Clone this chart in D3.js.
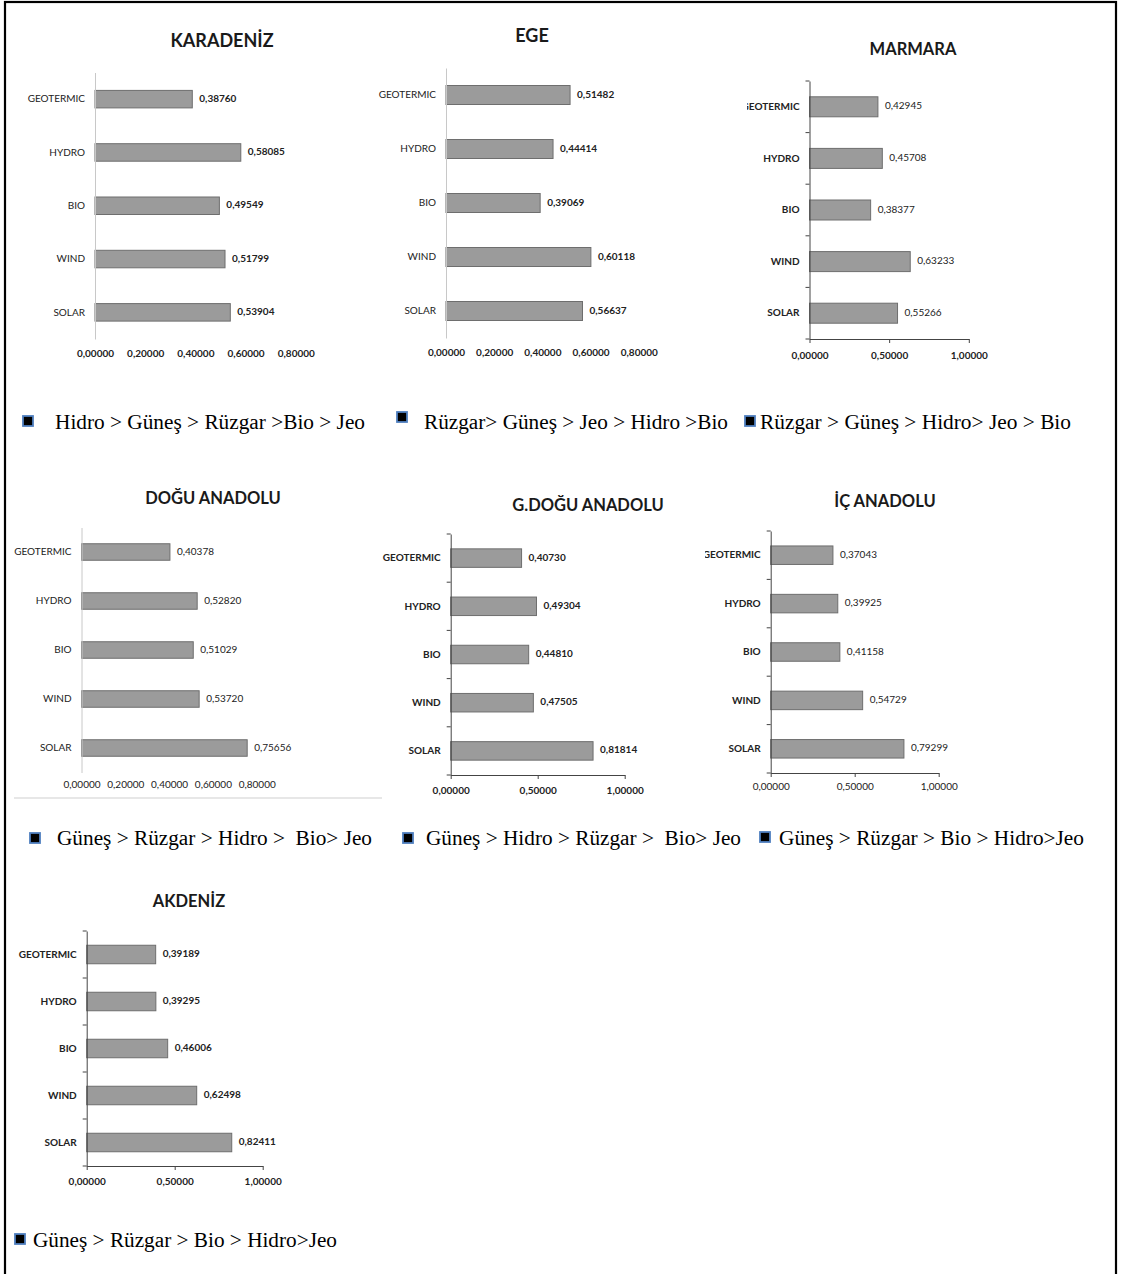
<!DOCTYPE html>
<html><head><meta charset="utf-8">
<script src="https://cdn.jsdelivr.net/npm/d3@7"></script>
<style>
html,body{margin:0;padding:0;background:#fff;}
svg{display:block;}
</style></head>
<body>
<svg id="c" width="1123" height="1274"></svg>
<script>
// ---------- DATA ----------
const categories = ["GEOTERMIC", "HYDRO", "BIO", "WIND", "SOLAR"];
const regionNames = ["KARADENİZ", "EGE", "MARMARA", "DOĞU ANADOLU", "G.DOĞU ANADOLU", "İÇ ANADOLU", "AKDENİZ"];
const karadeniz = [0.38760, 0.58085, 0.49549, 0.51799, 0.53904];
const ege       = [0.51482, 0.44414, 0.39069, 0.60118, 0.56637];
const marmara   = [0.42945, 0.45708, 0.38377, 0.63233, 0.55266];
const doguAnadolu  = [0.40378, 0.52820, 0.51029, 0.53720, 0.75656];
const gdoguAnadolu = [0.40730, 0.49304, 0.44810, 0.47505, 0.81814];
const icAnadolu    = [0.37043, 0.39925, 0.41158, 0.54729, 0.79299];
const akdeniz      = [0.39189, 0.39295, 0.46006, 0.62498, 0.82411];
const ticksA = [0, 0.2, 0.4, 0.6, 0.8];
const ticksB = [0, 0.5, 1.0];
const rankings = [
  "Hidro > Güneş > Rüzgar >Bio > Jeo",
  "Rüzgar> Güneş > Jeo > Hidro >Bio",
  "Rüzgar > Güneş > Hidro> Jeo > Bio",
  "Güneş > Rüzgar > Hidro >  Bio> Jeo",
  "Güneş > Hidro > Rüzgar >  Bio> Jeo",
  "Güneş > Rüzgar > Bio > Hidro>Jeo",
  "Güneş > Rüzgar > Bio > Hidro>Jeo"
];

// ---------- LAYOUT ----------
const panels = [
  {name:regionNames[0], vals:karadeniz, ticks:ticksA, ax:95,  top:72.5, bot:339, ppu:251, barH:17.5, tx:222, ty:42, tfs:18, tickY:354, axisStyle:"light", valBold:true, tickBold:true, catBold:false},
  {name:regionNames[1], vals:ege, ticks:ticksA, ax:446, top:68, bot:338, ppu:241, barH:19, tx:532, ty:37, tfs:18, tickY:353, axisStyle:"light", valBold:true, tickBold:true, catBold:false},
  {name:regionNames[2], vals:marmara, ticks:ticksB, ax:809.5, top:81, bot:339, ppu:159.3, barH:20, tx:913, ty:51, tfs:16.5, tickY:356, axisStyle:"dark", valBold:false, tickBold:true, catBold:true, clipX:747},
  {name:regionNames[3], vals:doguAnadolu, ticks:ticksA, ax:81.5, top:527.5, bot:772.5, ppu:219, barH:16.5, tx:213, ty:500, tfs:16.5, tickY:785, axisStyle:"light", valBold:false, tickBold:false, catBold:false, bottomLine:true},
  {name:regionNames[4], vals:gdoguAnadolu, ticks:ticksB, ax:450.7, top:534, bot:775, ppu:174, barH:18.5, tx:588, ty:507, tfs:16.5, tickY:791, axisStyle:"dark", valBold:true, tickBold:true, catBold:true},
  {name:regionNames[5], vals:icAnadolu, ticks:ticksB, ax:770.7, top:531, bot:773, ppu:168, barH:18.5, tx:885, ty:503, tfs:16.5, tickY:787, axisStyle:"dark", valBold:false, tickBold:false, catBold:true, clipX:705},
  {name:regionNames[6], vals:akdeniz, ticks:ticksB, ax:86.7, top:931, bot:1166, ppu:176, barH:18.5, tx:189, ty:903, tfs:16.5, tickY:1182, axisStyle:"dark", valBold:true, tickBold:true, catBold:true}
];
const legends = [
  {sx:28, sy:421, x0:55, x1:365, y:429},
  {sx:402, sy:417, x0:424, x1:728, y:429},
  {sx:750, sy:421, x0:760, x1:1071, y:429},
  {sx:35, sy:838, x0:57, x1:372, y:845},
  {sx:408, sy:838, x0:426, x1:741, y:845},
  {sx:765, sy:837, x0:779, x1:1084, y:845},
  {sx:20, sy:1239, x0:33, x1:337, y:1247}
];

const svg = d3.select("#c");
const FONT = "Lato, 'Open Sans', sans-serif";
const fmt = v => d3.format(".5f")(v).replace(".", ",");

// page border
svg.append("rect").attr("x",5).attr("y",2).attr("width",1111).attr("height",1300)
  .attr("fill","none").attr("stroke","#000").attr("stroke-width",2.2);

const defs = svg.append("defs");

panels.forEach((p, i) => {
  const g = svg.append("g");
  if (p.clipX !== undefined) {
    defs.append("clipPath").attr("id","clip"+i).append("rect")
      .attr("x", p.clipX).attr("y", p.top-30).attr("width", 500).attr("height", p.bot - p.top + 80);
    g.attr("clip-path", "url(#clip"+i+")");
  }
  const xMax = p.ticks[p.ticks.length-1];
  const x = d3.scaleLinear().domain([0, xMax]).range([p.ax, p.ax + p.ppu * xMax]);
  const y = d3.scaleBand().domain(categories).range([p.top, p.bot]);

  // title
  svg.append("text").attr("x", p.tx).attr("y", p.ty).attr("text-anchor","middle")
    .attr("dominant-baseline","middle").attr("font-family", FONT).attr("font-weight","bold")
    .attr("font-size", p.tfs).attr("fill","#1a1a1a").text(p.name);

  // bars
  g.selectAll("rect.bar").data(p.vals).join("rect").attr("class","bar")
    .attr("x", x(0)).attr("y", (d,j) => y(categories[j]) + y.bandwidth()/2 - p.barH/2)
    .attr("width", d => x(d) - x(0)).attr("height", p.barH)
    .attr("fill", "#9b9b9b").attr("stroke", "#6e6e6e").attr("stroke-width", 1);

  // value labels
  g.selectAll("text.val").data(p.vals).join("text").attr("class","val")
    .attr("x", d => x(d) + 7).attr("y", (d,j) => y(categories[j]) + y.bandwidth()/2)
    .attr("dominant-baseline","middle").attr("font-family", FONT)
    .attr("font-weight", p.valBold ? "bold" : "normal").attr("font-size", 10).attr("fill","#222")
    .text(d => fmt(d));

  // y axis (category)
  const yAxis = d3.axisLeft(y).tickSize(0).tickPadding(10);
  const ya = g.append("g").attr("transform", `translate(${p.ax},0)`).call(yAxis);
  ya.select(".domain").attr("stroke", p.axisStyle === "dark" ? "#444" : "#c8c8c8").attr("stroke-width", 1);
  ya.selectAll(".tick text").attr("font-family", FONT).attr("font-size", 10)
    .attr("font-weight", p.catBold ? "bold" : "normal").attr("fill","#222");

  if (p.axisStyle === "dark") {
    const bounds = categories.map(c => y(c)).concat([p.bot]);
    g.selectAll("line.yt").data(bounds).join("line").attr("class","yt")
      .attr("x1", p.ax - 4).attr("x2", p.ax).attr("y1", d => d).attr("y2", d => d)
      .attr("stroke","#444").attr("stroke-width",1);
    const xa = g.append("g").attr("transform", `translate(0,${p.bot})`)
      .call(d3.axisBottom(x).tickValues(p.ticks).tickSize(4).tickSizeOuter(0).tickFormat(fmt).tickPadding(9));
    xa.select(".domain").attr("stroke","#444");
    xa.selectAll(".tick line").attr("stroke","#444");
    xa.selectAll(".tick text").attr("font-family", FONT).attr("font-size", 10)
      .attr("font-weight", p.tickBold ? "bold" : "normal").attr("fill","#222")
      .attr("dy", null).attr("y", p.tickY - p.bot).attr("dominant-baseline","middle");
  } else {
    const xa = g.append("g").attr("transform", `translate(0,${p.tickY})`)
      .call(d3.axisBottom(x).tickValues(p.ticks).tickSize(0).tickFormat(fmt).tickPadding(0));
    xa.select(".domain").remove();
    xa.selectAll(".tick text").attr("font-family", FONT).attr("font-size", 10)
      .attr("font-weight", p.tickBold ? "bold" : "normal").attr("fill","#222")
      .attr("y", 0).attr("dy", null).attr("dominant-baseline","middle");
  }

  if (p.bottomLine) {
    svg.append("line").attr("x1", 14).attr("x2", 382).attr("y1", 798).attr("y2", 798)
      .attr("stroke", "#cfcfcf").attr("stroke-width", 1);
  }
});

// rankings legends
legends.forEach((l, i) => {
  svg.append("rect").attr("x", l.sx - 5).attr("y", l.sy - 5).attr("width", 10).attr("height", 10)
    .attr("fill", "#000").attr("stroke", "#4f7fbf").attr("stroke-width", 1.8);
  svg.append("text").attr("x", l.x0).attr("y", l.y)
    .attr("font-family", "'Liberation Serif', 'Times New Roman', serif").attr("font-size", 20.5)
    .attr("fill", "#000").attr("textLength", l.x1 - l.x0).attr("lengthAdjust", "spacingAndGlyphs")
    .style("white-space","pre").attr("xml:space","preserve")
    .text(rankings[i]);
});
</script>
</body></html>
